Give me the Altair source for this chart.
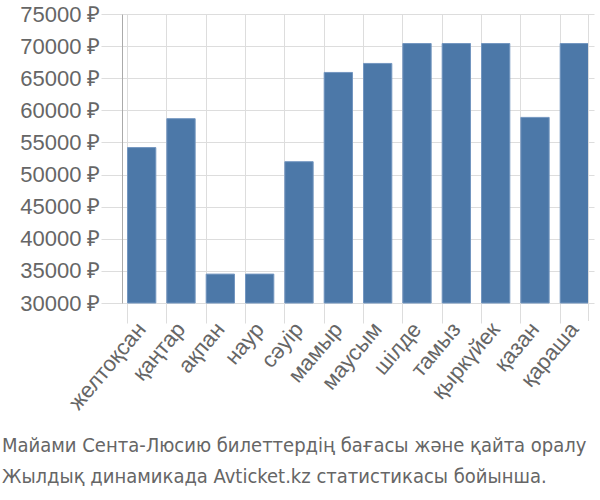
import altair as alt
import pandas as pd

months = ["желтоқсан", "қаңтар", "ақпан", "наур", "сәуір", "мамыр",
          "маусым", "шілде", "тамыз", "қыркүйек", "қазан", "қараша"]
prices = [54200, 58700, 34500, 34500, 52000, 65900,
          67300, 70400, 70400, 70400, 58900, 70400]
y_ticks = [30000, 35000, 40000, 45000, 50000, 55000, 60000, 65000, 70000, 75000]
title_lines = ["Майами Сента-Люсию билеттердің бағасы және қайта оралу",
               "Жылдық динамикада Avticket.kz статистикасы бойынша."]

df = pd.DataFrame({"month": months, "price": prices})

W, H = 472, 289

bars = alt.Chart(df).mark_bar(color="#4c78a8", stroke="#7396c0", strokeWidth=1).encode(
    x=alt.X("month:N", sort=months, title=None,
            scale=alt.Scale(paddingInner=0.28, paddingOuter=0.14),
            axis=alt.Axis(bandPosition=0, labelAngle=-50, labelAlign="right",
                          labelBaseline="middle", tickSize=20, tickColor="#dddddd",
                          domain=False, gridColor="#dddddd", grid=True,
                          labelFontSize=22, labelColor="#666666",
                          labelFont="Liberation Sans", labelPadding=2)),
    y=alt.Y("price:Q", title=None,
            scale=alt.Scale(domain=[30000, 75000], zero=False, nice=False),
            axis=alt.Axis(values=y_ticks, labelExpr="datum.value + ' ₽'",
                          tickSize=21, tickColor="#dddddd", gridColor="#dddddd",
                          domainColor="#aaaaaa", labelFontSize=22,
                          labelColor="#666666", labelFont="Liberation Sans",
                          labelPadding=1)),
    y2=alt.datum(30000),
)

edge = alt.Chart(pd.DataFrame({"month": [months[-1]]})).mark_rule(
    color="#dddddd", strokeWidth=1
).encode(
    x=alt.X("month:N", sort=months, bandPosition=1),
    y=alt.value(0),
    y2=alt.value(H + 18),
)

chart = alt.layer(bars, edge).properties(
    width=W, height=H,
    padding={"left": 122, "top": 14, "right": 6, "bottom": 197},
    autosize=alt.AutoSizeParams(type="none"),
    title=alt.TitleParams(text=title_lines, orient="bottom", anchor="start",
                          frame="group",
                          font="'DejaVu Sans Condensed', 'Liberation Sans'",
                          fontSize=20,
                          fontWeight="normal", color="#666666",
                          dx=-120, offset=23, lineHeight=31),
).configure_view(stroke=None)

chart.save("out.html", embed_options={"renderer": "svg", "actions": False})
